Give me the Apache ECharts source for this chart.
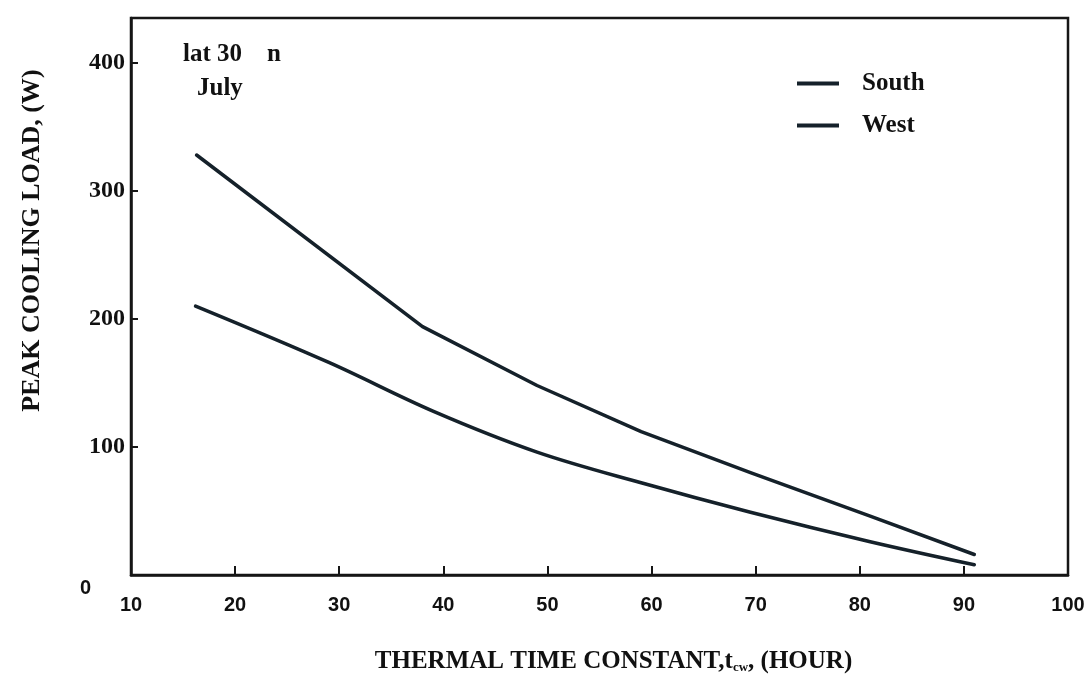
<!DOCTYPE html>
<html>
<head>
<meta charset="utf-8">
<script src="https://cdn.jsdelivr.net/npm/echarts@6/dist/echarts.min.js"></script>
<style>
  html, body { margin: 0; padding: 0; background: #ffffff; }
  #chart { width: 1089px; height: 680px; }
</style>
</head>
<body>
<div id="chart"></div>
<script>
// ---- data ----
const seriesNames = ['South', 'West'];
const southX = [16.2, 29, 39, 49, 59, 69.5, 81, 91];
const southY = [210, 166, 128, 96, 72, 49, 26, 8];
const westX = [16.3, 38, 49, 59, 69.5, 81, 91];
const westY = [328, 194, 148, 112, 80, 46, 16];
const xTicks = [10, 20, 30, 40, 50, 60, 70, 80, 90, 100];
const yTicks = [0, 100, 200, 300, 400];
const xTitle = 'THERMAL TIME CONSTANT,t';
const yTitle = 'PEAK COOLING LOAD, (W)';
const noteLine1 = 'lat 30    n';
const noteLine2 = 'July';

const ink = '#15212a';
const textInk = '#111111';
const serif = '"Liberation Serif", "Times New Roman", serif';
const sans = '"Liberation Sans", Arial, sans-serif';

const chart = echarts.init(document.getElementById('chart'), null, { renderer: 'canvas' });

const pairs = (xs, ys) => xs.map((x, i) => [x, ys[i]]);

chart.setOption({
  backgroundColor: '#ffffff',
  animation: false,
  grid: {
    left: 131, right: 21, top: 18, bottom: 105,
    show: true, borderColor: '#161616', borderWidth: 2.5,
    backgroundColor: 'transparent'
  },
  legend: {
    orient: 'vertical',
    left: 792, top: 66,
    itemWidth: 42, itemHeight: 4,
    itemGap: 17,
    icon: 'rect',
    data: seriesNames,
    textStyle: {
      fontFamily: serif, fontWeight: 'bold', fontSize: 25, color: textInk,
      padding: [0, 0, 0, 18]
    }
  },
  xAxis: {
    type: 'value',
    min: xTicks[0], max: xTicks[xTicks.length - 1], interval: 10,
    name: xTitle + '{sub|cw}' + ', (HOUR)',
    nameLocation: 'middle',
    nameGap: 74,
    nameTextStyle: {
      fontFamily: serif, fontWeight: 'bold', fontSize: 25, color: textInk,
      padding: [0, 0, 0, 28],
      rich: {
        sub: { fontFamily: serif, fontWeight: 'bold', fontSize: 13, color: textInk, verticalAlign: 'bottom', padding: [12, 0, 0, 0] }
      }
    },
    splitLine: { show: false },
    axisLine: { show: true, lineStyle: { color: '#161616', width: 2.5 } },
    axisTick: { show: true, inside: true, length: 9, lineStyle: { color: '#161616', width: 2 } },
    axisLabel: {
      margin: 20,
      fontFamily: sans, fontWeight: 'bold', fontSize: 20, color: textInk
    }
  },
  yAxis: {
    type: 'value',
    min: 0, max: 435, interval: 100,
    name: yTitle,
    nameLocation: 'middle',
    nameGap: 86,
    nameRotate: 90,
    nameTextStyle: {
      fontFamily: serif, fontWeight: 'bold', fontSize: 26, color: textInk,
      padding: [0, 0, 0, 112]
    },
    splitLine: { show: false },
    axisLine: { show: true, lineStyle: { color: '#161616', width: 2.5 } },
    axisTick: { show: true, inside: true, length: 7, lineStyle: { color: '#161616', width: 2 }, customValues: yTicks },
    axisLabel: {
      margin: 6,
      customValues: yTicks,
      fontFamily: serif, fontWeight: 'bold', fontSize: 24, color: textInk,
      formatter: function (v) {
        if (v % 100 !== 0) return '';
        return v === 0 ? '{z|0}' : String(v);
      },
      rich: {
        z: { fontFamily: sans, fontWeight: 'bold', fontSize: 20, color: textInk, padding: [26, 34, 0, 0] }
      }
    }
  },
  graphic: [
    {
      type: 'text', left: 183, top: 42,
      style: { text: noteLine1, font: 'bold 25px ' + serif, fill: textInk }
    },
    {
      type: 'text', left: 197, top: 76,
      style: { text: noteLine2, font: 'bold 25px ' + serif, fill: textInk }
    }
  ],
  series: [
    {
      name: seriesNames[0], type: 'line', data: pairs(southX, southY),
      showSymbol: false, symbol: 'none', smooth: 0.35,
      lineStyle: { color: ink, width: 3.5, cap: 'round' },
      itemStyle: { color: ink }
    },
    {
      name: seriesNames[1], type: 'line', data: pairs(westX, westY),
      showSymbol: false, symbol: 'none', smooth: false,
      lineStyle: { color: ink, width: 3.5, cap: 'round', join: 'round' },
      itemStyle: { color: ink }
    }
  ]
});
</script>
</body>
</html>
